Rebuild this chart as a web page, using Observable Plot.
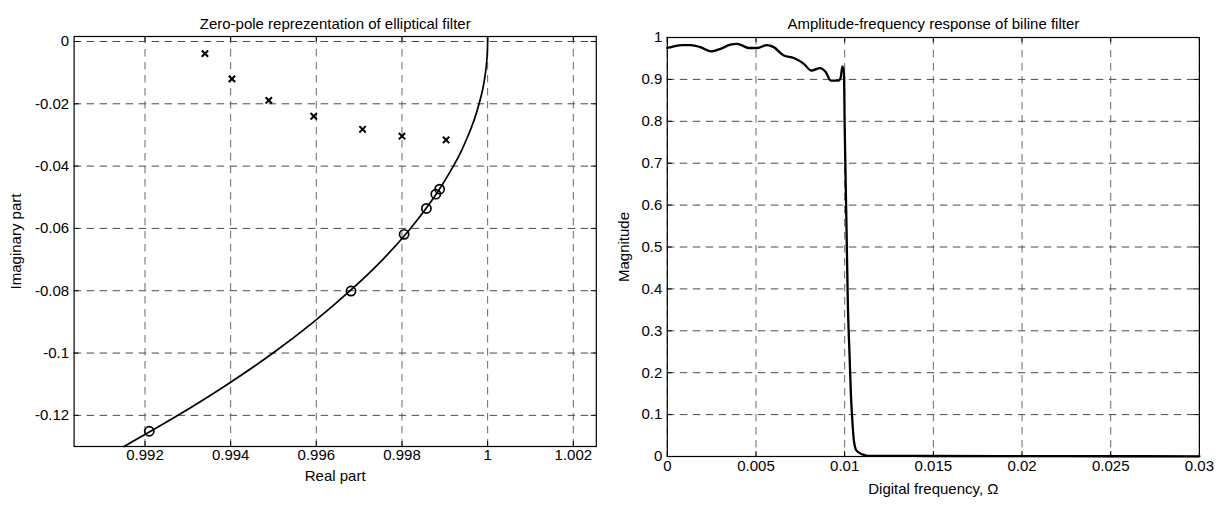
<!DOCTYPE html>
<html><head><meta charset="utf-8">
<script src="https://cdn.jsdelivr.net/npm/d3@7"></script>
<script src="https://cdn.jsdelivr.net/npm/@observablehq/plot@0.6"></script>
<style>
body{margin:0;background:#fff;}
#wrap{position:relative;width:1222px;height:505px;font-family:"Liberation Sans",Arial,sans-serif;}
#left,#right{position:absolute;top:0;}
#left{left:0}
#right{left:620px}
</style></head><body><div id="wrap"><div id="left"></div><div id="right"></div></div>
<script>
// ---------- Left chart data: zero-pole plot ----------
const leftTitle = "Zero-pole reprezentation of elliptical filter";
const leftXLabel = "Real part";
const leftYLabel = "Imaginary part";
const leftXTicks = [0.992, 0.994, 0.996, 0.998, 1, 1.002];
const leftXTickLabels = ["0.992", "0.994", "0.996", "0.998", "1", "1.002"];
const leftYTicks = [0, -0.02, -0.04, -0.06, -0.08, -0.1, -0.12];
const leftYTickLabels = ["0", "-0.02", "-0.04", "-0.06", "-0.08", "-0.1", "-0.12"];
// unit-circle arc
const arcRe = [0.99151, 0.99277, 0.99393, 0.99499, 0.99594, 0.99679, 0.99755, 0.99820, 0.99875, 0.99920, 0.99939, 0.99955, 0.99969, 0.99980, 0.99989, 0.99995, 0.999987, 1.0, 1.0];
const arcIm = [-0.13, -0.12, -0.11, -0.10, -0.09, -0.08, -0.07, -0.06, -0.05, -0.04, -0.035, -0.03, -0.025, -0.02, -0.015, -0.01, -0.005, 0, 0.0016];
// zeros (circles)
const zeroRe = [0.99888, 0.99879, 0.99857, 0.99805, 0.99681, 0.9921];
const zeroIm = [-0.0474, -0.0490, -0.0536, -0.0619, -0.0801, -0.1251];
// poles (crosses)
const poleRe = [0.99340, 0.99403, 0.99489, 0.99594, 0.99708, 0.99800, 0.99903];
const poleIm = [-0.0039, -0.0120, -0.0189, -0.0240, -0.0282, -0.0304, -0.0316];

// ---------- Right chart data: amplitude-frequency response ----------
const rightTitle = "Amplitude-frequency response of biline filter";
const rightXLabel = "Digital frequency, \u03A9";
const rightYLabel = "Magnitude";
const rightXTicks = [0, 0.005, 0.01, 0.015, 0.02, 0.025, 0.03];
const rightXTickLabels = ["0", "0.005", "0.01", "0.015", "0.02", "0.025", "0.03"];
const rightYTicks = [0, 0.1, 0.2, 0.3, 0.4, 0.5, 0.6, 0.7, 0.8, 0.9, 1];
const rightYTickLabels = ["0", "0.1", "0.2", "0.3", "0.4", "0.5", "0.6", "0.7", "0.8", "0.9", "1"];
const freq = [0, 0.00037, 0.00084, 0.00131, 0.00187, 0.00244, 0.0030, 0.00356, 0.00394, 0.0046, 0.00507, 0.00563, 0.0060, 0.00657, 0.00713, 0.0077, 0.00812, 0.00861, 0.00894, 0.00922, 0.00965, 0.00978, 0.00987, 0.00996, 0.0100, 0.01009, 0.01018, 0.01028, 0.01035, 0.01041, 0.01052, 0.01067, 0.0110, 0.01132, 0.015, 0.02, 0.025, 0.03];
const mag = [0.975, 0.979, 0.982, 0.982, 0.977, 0.967, 0.973, 0.983, 0.985, 0.975, 0.975, 0.982, 0.977, 0.957, 0.951, 0.937, 0.921, 0.927, 0.917, 0.897, 0.897, 0.905, 0.931, 0.917, 0.79, 0.58, 0.364, 0.237, 0.15, 0.102, 0.038, 0.014, 0.005, 0.0017, 0.0012, 0.0008, 0.0006, 0.0005];

const FONT = '"Liberation Sans", Arial, Helvetica, sans-serif';
const DASH = "7.5,5.5";

function gridAndTicks(xTicks, yTicks, frameW, frameH) {
  return [
    Plot.ruleX(xTicks, {x: d => d, stroke: "#6a6a6a", strokeDasharray: DASH}),
    Plot.ruleY(yTicks, {y: d => d, stroke: "#4a4a4a", strokeDasharray: DASH}),
    Plot.ruleX(xTicks, {x: d => d, stroke: "#000", insetTop: frameH - 5}),
    Plot.ruleX(xTicks, {x: d => d, stroke: "#000", insetBottom: frameH - 5}),
    Plot.ruleY(yTicks, {y: d => d, stroke: "#000", insetRight: frameW - 5}),
    Plot.ruleY(yTicks, {y: d => d, stroke: "#000", insetLeft: frameW - 5})
  ];
}

// ---------- Left chart ----------
{
  const W = 620, H = 505, mL = 73.6, mR = 24.2, mT = 36, mB = 59;
  const fW = W - mL - mR, fH = H - mT - mB;
  const chart = Plot.plot({
    width: W, height: H,
    marginLeft: mL, marginRight: mR, marginTop: mT, marginBottom: mB,
    x: {domain: [0.990345, 1.002537], axis: null},
    y: {domain: [-0.13, 0.0016], axis: null},
    style: {fontFamily: FONT, fontSize: "15px", color: "#000", background: "transparent", overflow: "visible"},
    marks: [
      ...gridAndTicks(leftXTicks, leftYTicks, fW, fH),
      Plot.line(arcIm, {x: (d, i) => arcRe[i], y: d => d, stroke: "#000", strokeWidth: 1.7, curve: "catmull-rom"}),
      Plot.dot(zeroIm, {x: (d, i) => zeroRe[i], y: d => d, r: 4.6, stroke: "#000", strokeWidth: 1.7, fill: "none"}),
      Plot.dot(poleIm, {x: (d, i) => poleRe[i], y: d => d, symbol: "times", r: 3, stroke: "#000", strokeWidth: 2}),
      Plot.frame({stroke: "#000", strokeWidth: 1.2}),
      Plot.text(leftXTicks, {x: d => d, frameAnchor: "bottom", dy: 13, text: (d, i) => leftXTickLabels[i], fontSize: 15}),
      Plot.text(leftYTicks, {y: d => d, frameAnchor: "left", dx: -5, textAnchor: "end", text: (d, i) => leftYTickLabels[i], fontSize: 15}),
      Plot.text([leftTitle], {frameAnchor: "top", dy: -18, textAnchor: "middle", fontSize: 15}),
      Plot.text([leftXLabel], {frameAnchor: "bottom", dy: 34, textAnchor: "middle", fontSize: 15}),
      Plot.text([leftYLabel], {frameAnchor: "left", dx: -57.6, textAnchor: "middle", rotate: -90, fontSize: 15})
    ]
  });
  document.getElementById("left").appendChild(chart);
}

// ---------- Right chart ----------
{
  const W = 602, H = 505, mL = 46.8, mR = 23.1, mT = 37, mB = 49;
  const fW = W - mL - mR, fH = H - mT - mB;
  const chart = Plot.plot({
    width: W, height: H,
    marginLeft: mL, marginRight: mR, marginTop: mT, marginBottom: mB,
    x: {domain: [0, 0.03], axis: null},
    y: {domain: [0, 1], axis: null},
    style: {fontFamily: FONT, fontSize: "15px", color: "#000", background: "transparent", overflow: "visible"},
    marks: [
      ...gridAndTicks(rightXTicks, rightYTicks, fW, fH),
      Plot.line(mag, {x: (d, i) => freq[i], y: d => d, stroke: "#000", strokeWidth: 2.3, curve: "monotone-x"}),
      Plot.frame({stroke: "#000", strokeWidth: 1.2}),
      Plot.text(rightXTicks, {x: d => d, frameAnchor: "bottom", dy: 14, text: (d, i) => rightXTickLabels[i], fontSize: 15}),
      Plot.text(rightYTicks, {y: d => d, frameAnchor: "left", dx: -5, textAnchor: "end", text: (d, i) => rightYTickLabels[i], fontSize: 15}),
      Plot.text([rightTitle], {frameAnchor: "top", dy: -19, textAnchor: "middle", fontSize: 15}),
      Plot.text([rightXLabel], {frameAnchor: "bottom", dy: 37, textAnchor: "middle", fontSize: 15}),
      Plot.text([rightYLabel], {frameAnchor: "left", dx: -43, textAnchor: "middle", rotate: -90, fontSize: 15})
    ]
  });
  document.getElementById("right").appendChild(chart);
}
</script></body></html>
